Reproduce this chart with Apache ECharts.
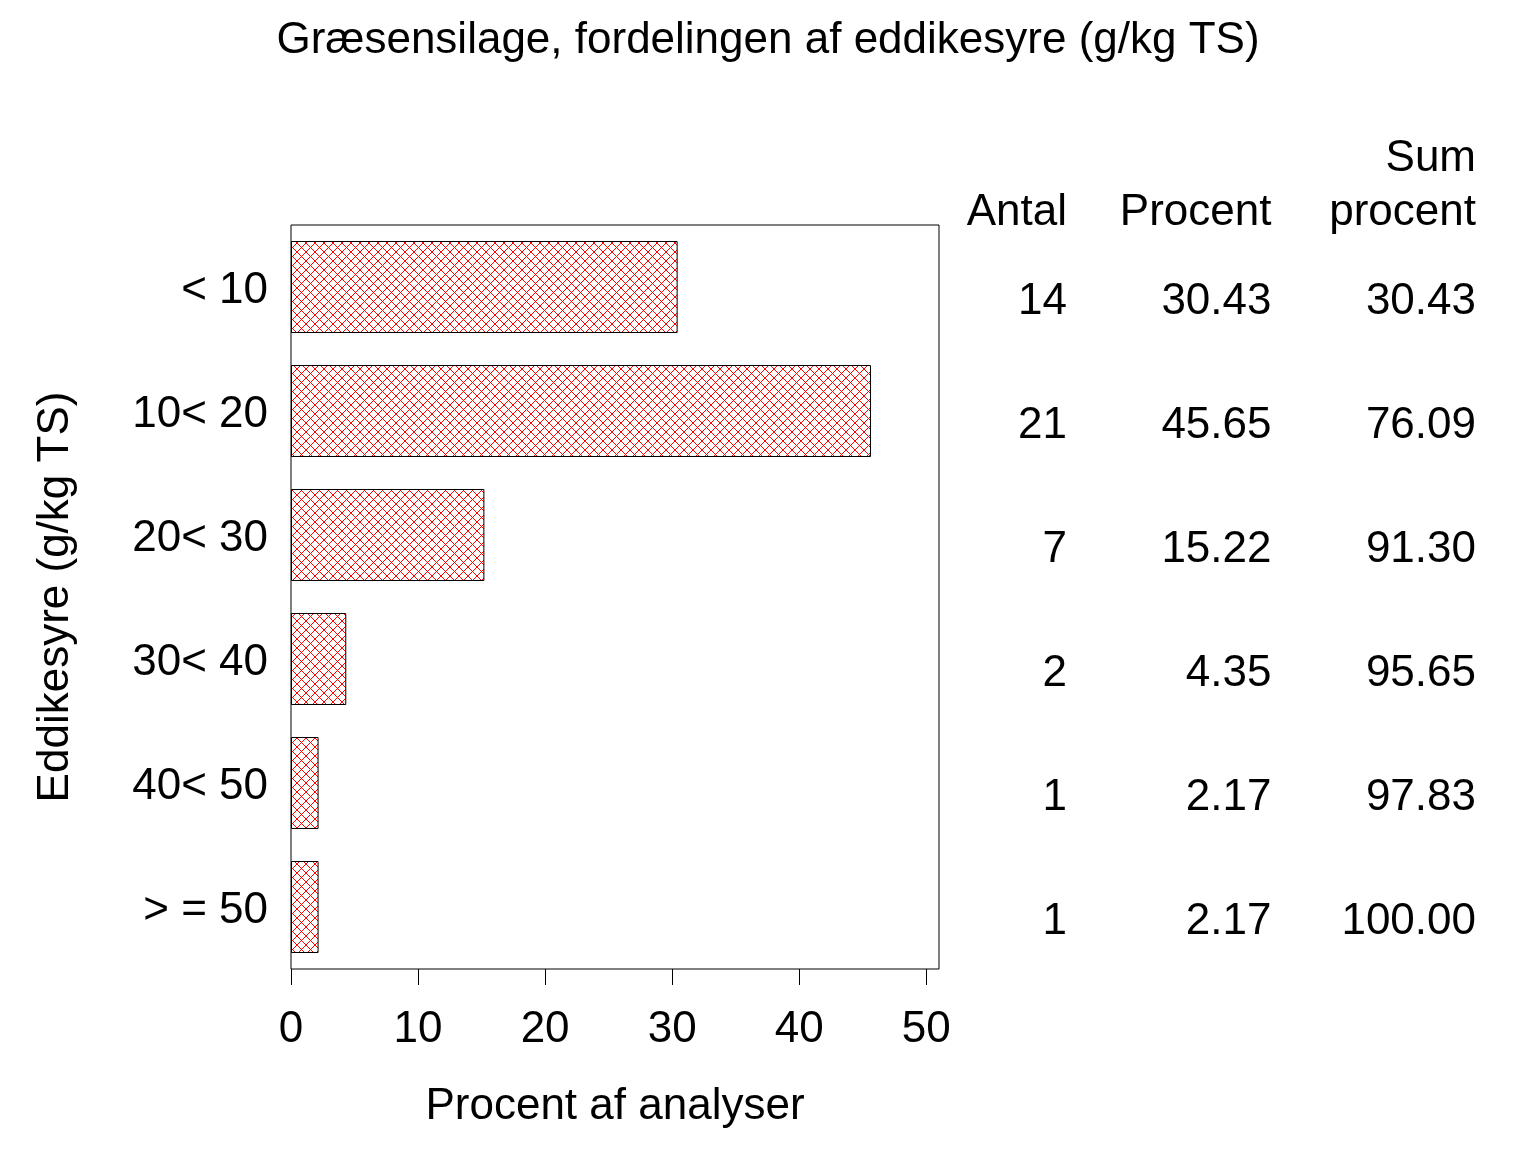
<!DOCTYPE html>
<html>
<head>
<meta charset="utf-8">
<title>Græsensilage, eddikesyre</title>
<script src="https://cdn.jsdelivr.net/npm/echarts@6/dist/echarts.min.js"></script>
<style>
  html, body { margin: 0; padding: 0; background: #fff; }
  #main { width: 1536px; height: 1152px; }
</style>
</head>
<body>
<div id="main"></div>
<script>
// tal
const categories = ["< 10", "10< 20", "20< 30", "30< 40", "40< 50", "> = 50"];
const antal = [14, 21, 7, 2, 1, 1];
const procent = [30.43, 45.65, 15.22, 4.35, 2.17, 2.17];
const sumProcent = [30.43, 76.09, 91.30, 95.65, 97.83, 100.00];
const tableHeaders = ["Antal", "Procent", "Sum\nprocent"];
const xTicks = [0, 10, 20, 30, 40, 50];

const FONT = "'Liberation Sans', Arial, sans-serif";
const FS = 44;

// rød krydsskravering til søjlerne
function hatch() {
  const c = document.createElement("canvas");
  c.width = 9;
  c.height = 9;
  const ctx = c.getContext("2d");
  ctx.fillStyle = "#ff0000";
  for (let i = 0; i < 9; i++) {
    ctx.fillRect(i, i, 1, 1);
    ctx.fillRect(8 - i, i, 1, 1);
  }
  return c;
}

// tabellen til højre: [kolonne, række, tekst]
const cells = [];
categories.forEach((cat, i) => {
  cells.push([0, i, String(antal[i])]);
  cells.push([1, i, procent[i].toFixed(2)]);
  cells.push([2, i, sumProcent[i].toFixed(2)]);
});

const textStyle = { fontFamily: FONT, fontSize: FS, color: "#000" };

const option = {
  animation: false,
  backgroundColor: "#fff",
  textStyle: { fontFamily: FONT },
  title: {
    text: "Græsensilage, fordelingen af eddikesyre (g/kg TS)",
    left: "center",
    top: 14,
    textStyle: { fontFamily: FONT, fontSize: FS, fontWeight: "normal", color: "#000" },
  },
  grid: [
    {
      left: 291, top: 225, width: 648, height: 744,
      show: true, borderColor: "#000", borderWidth: 1, backgroundColor: "transparent",
    },
    // kolonnernes højre kant: 1067, 1271.5, 1476
    { left: 1067, top: 225, width: 409, height: 744, show: false },
  ],
  xAxis: [
    {
      type: "value",
      gridIndex: 0,
      min: 0,
      max: 51,
      interval: 10,
      name: "Procent af analyser",
      nameLocation: "middle",
      nameGap: 116,
      nameTextStyle: textStyle,
      axisLine: { show: false },
      axisTick: { show: true, length: 16, customValues: xTicks, lineStyle: { color: "#000", width: 1 } },
      axisLabel: Object.assign({ margin: 39, customValues: xTicks }, textStyle),
      splitLine: { show: false },
    },
    {
      type: "category",
      gridIndex: 1,
      position: "top",
      boundaryGap: false,
      data: tableHeaders,
      axisLine: { show: false },
      axisTick: { show: false },
      axisLabel: Object.assign({ align: "right", margin: -15, lineHeight: 54, interval: 0 }, textStyle),
    },
  ],
  yAxis: [
    {
      type: "category",
      gridIndex: 0,
      inverse: true,
      data: categories,
      name: "Eddikesyre (g/kg TS)",
      nameLocation: "middle",
      nameGap: 213,
      nameTextStyle: textStyle,
      axisLine: { show: false },
      axisTick: { show: false },
      axisLabel: Object.assign({
        margin: 23,
        formatter: (v) => "{a|" + v + "}",
        rich: { a: { fontFamily: FONT, fontSize: FS, color: "#000", padding: [8, 0, 0, 0] } },
      }, textStyle),
    },
    {
      type: "category",
      gridIndex: 1,
      inverse: true,
      data: categories,
      show: false,
    },
  ],
  series: [
    {
      type: "bar",
      xAxisIndex: 0,
      yAxisIndex: 0,
      data: procent,
      barWidth: 92,
      silent: true,
      itemStyle: {
        color: { image: hatch(), repeat: "repeat" },
        borderColor: "#000",
        borderWidth: 1,
      },
    },
    {
      type: "scatter",
      xAxisIndex: 1,
      yAxisIndex: 1,
      data: cells,
      symbolSize: 0,
      silent: true,
      itemStyle: { color: "#000", opacity: 1 },
      label: Object.assign({
        show: true,
        position: "inside",
        align: "right",
        verticalAlign: "middle",
        offset: [0, 15],
        textBorderWidth: 0,
        formatter: (p) => p.value[2],
      }, textStyle),
    },
  ],
};

const chart = echarts.init(document.getElementById("main"));
chart.setOption(option);
</script>
</body>
</html>
